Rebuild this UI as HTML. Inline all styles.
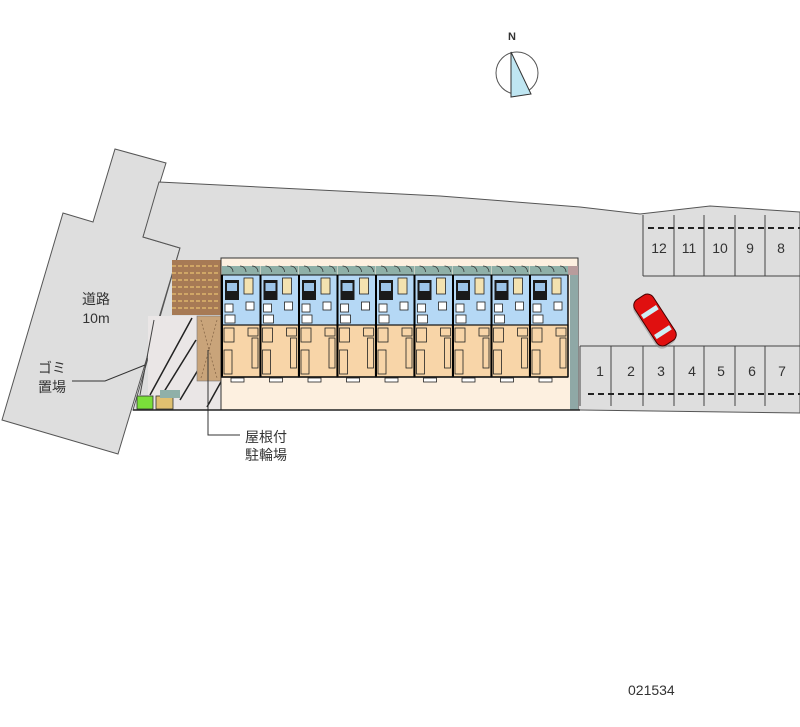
<!DOCTYPE html>
<html><head><meta charset="utf-8"><style>
html,body{margin:0;padding:0;background:#fff;width:800px;height:727px;overflow:hidden}
svg{display:block}
text{font-family:"Liberation Sans","Noto Sans CJK JP",sans-serif;fill:#333}
</style></head><body>
<svg width="800" height="727" viewBox="0 0 800 727" xmlns="http://www.w3.org/2000/svg">
<defs>
<g id="unit">
  <rect x="0" y="8" width="38" height="9" fill="#8fb0a8"/>
  <rect x="0" y="17" width="38" height="50" fill="#b5d8f5" stroke="#111" stroke-width="1"/>
  <rect x="3" y="22" width="14" height="20" fill="#1a1a1a"/>
  <rect x="5" y="25" width="10" height="8" fill="#9cc4e8"/>
  <rect x="22" y="20" width="9" height="16" fill="#f3e2b0" stroke="#222" stroke-width="0.8"/>
  <rect x="3" y="46" width="8" height="8" fill="#fff" stroke="#222" stroke-width="0.8"/>
  <rect x="3" y="57" width="10" height="8" fill="#fff" stroke="#222" stroke-width="0.8"/>
  <rect x="24" y="44" width="8" height="8" fill="#fff" stroke="#222" stroke-width="0.8"/>
  <rect x="0" y="67" width="38" height="52" fill="#f8d5a8" stroke="#111" stroke-width="1.2"/>
  <rect x="2" y="70" width="10" height="14" fill="#f8d5a8" stroke="#222" stroke-width="0.8"/>
  <rect x="26" y="70" width="10" height="8" fill="#f8d5a8" stroke="#222" stroke-width="0.8"/>
  <rect x="30" y="80" width="6" height="30" fill="#f8d5a8" stroke="#222" stroke-width="0.8"/>
  <rect x="2" y="92" width="8" height="24" fill="#f8d5a8" stroke="#222" stroke-width="0.8"/>
  <rect x="9" y="120" width="13" height="4" fill="#fff" stroke="#222" stroke-width="0.8"/>
  <path d="M5 8 a6 6 0 0 1 6 6 M18 8 a6 6 0 0 1 6 6 M30 8 a6 6 0 0 1 6 6" fill="none" stroke="#333" stroke-width="0.8"/>
  <line x1="0" y1="17" x2="0" y2="119" stroke="#000" stroke-width="2"/>
</g>
</defs>
<!-- road -->
<polygon points="115,149 166,163 143,237 180,248 118,454 2,420 63,213 93,222" fill="#dedede" stroke="#555" stroke-width="1"/>
<!-- lot -->
<polygon points="159,182 440,196 580,207 640,214 710,206 800,212 800,413 580,410 133,410 180,248 143,237" fill="#dedede" stroke="#555" stroke-width="1"/>
<rect x="148" y="316" width="74" height="94" fill="#eae6e6"/>
<g stroke="#222" stroke-width="1.5">
<line x1="150" y1="395" x2="192" y2="318"/><line x1="162" y1="395" x2="196" y2="340"/>
<line x1="180" y1="400" x2="198" y2="370"/><line x1="207" y1="407" x2="222" y2="380"/>
</g>
<line x1="154" y1="320" x2="140" y2="395" stroke="#444" stroke-width="1"/>
<!-- brick -->
<rect x="172" y="260" width="50" height="55" fill="#a77a55"/>
<g stroke="#e8c070" stroke-width="1.2" stroke-dasharray="4 2">
<line x1="172" y1="266" x2="220" y2="266"/><line x1="172" y1="273" x2="220" y2="273"/><line x1="172" y1="280" x2="220" y2="280"/><line x1="172" y1="287" x2="220" y2="287"/><line x1="172" y1="294" x2="220" y2="294"/><line x1="172" y1="301" x2="220" y2="301"/><line x1="172" y1="308" x2="220" y2="308"/>
</g>
<!-- bike area -->
<rect x="197" y="316" width="24" height="65" fill="#c9a47a" stroke="#777" stroke-width="0.6"/>
<path d="M201 320 L209 350 L217 320 M201 378 L209 350 L217 378" fill="none" stroke="#8a6a4a" stroke-width="0.8" stroke-dasharray="2 2"/>
<line x1="208" y1="350" x2="208" y2="412" stroke="#333" stroke-width="1"/>
<!-- green & box -->
<rect x="137" y="396" width="16" height="13" fill="#7adf3a" stroke="#333" stroke-width="0.8"/>
<rect x="156" y="396" width="17" height="13" fill="#e0c070" stroke="#333" stroke-width="0.8"/>
<rect x="160" y="390" width="20" height="8" fill="#8fb0a8"/>
<!-- building -->
<rect x="221" y="258" width="357" height="152" fill="#fdf0e0" stroke="#333" stroke-width="1"/>
<rect x="568" y="266" width="10" height="9" fill="#b89c9c"/>
<rect x="570" y="275" width="8" height="135" fill="#8fa8a6"/>
<use href="#unit" x="222" y="258"/><use href="#unit" x="260.5" y="258"/><use href="#unit" x="299" y="258"/>
<use href="#unit" x="337.5" y="258"/><use href="#unit" x="376" y="258"/><use href="#unit" x="414.5" y="258"/>
<use href="#unit" x="453" y="258"/><use href="#unit" x="491.5" y="258"/><use href="#unit" x="530" y="258"/>
<line x1="221" y1="377" x2="568" y2="377" stroke="#111" stroke-width="1.5"/>
<line x1="568" y1="275" x2="568" y2="377" stroke="#111" stroke-width="1.5"/>
<line x1="133" y1="410" x2="580" y2="410" stroke="#222" stroke-width="1.5"/>
<!-- parking top -->
<g fill="none" stroke="#444" stroke-width="1">
<path d="M643 276 V215 M643 276 H800 M674 215 V276 M704 215 V276 M735 215 V276 M765 215 V276"/>
<path d="M580 346 H800 M580 346 V406 M611 346 V406 M643 346 V406 M674 346 V406 M704 346 V406 M735 346 V406 M765 346 V406"/>
</g>
<g stroke="#222" stroke-width="2" stroke-dasharray="6 4">
<line x1="648" y1="228" x2="800" y2="228"/><line x1="588" y1="394" x2="800" y2="394"/>
</g>
<g font-size="14" fill="#444" text-anchor="middle">
<text x="659" y="253">12</text><text x="689" y="253">11</text><text x="720" y="253">10</text><text x="750" y="253">9</text><text x="781" y="253">8</text>
<text x="600" y="376">1</text><text x="631" y="376">2</text><text x="661" y="376">3</text><text x="692" y="376">4</text><text x="721" y="376">5</text><text x="752" y="376">6</text><text x="782" y="376">7</text>
</g>
<!-- car -->
<g transform="translate(655,320) rotate(57)">
<rect x="-27" y="-11" width="54" height="22" rx="7" fill="#888" opacity="0.5" transform="translate(2,2)"/>
<rect x="-27" y="-11" width="54" height="22" rx="7" fill="#e01010" stroke="#400" stroke-width="1"/>
<rect x="-12" y="-9" width="5" height="18" fill="#cfeef5"/>
<rect x="12" y="-9" width="5" height="18" fill="#cfeef5"/>
</g>
<!-- compass -->
<circle cx="517" cy="73" r="21" fill="#fff" stroke="#555" stroke-width="1"/>
<polygon points="511,52 531,94 511,97" fill="#bfe6f2" stroke="#333" stroke-width="1"/>
<text x="508" y="40" font-size="11" font-weight="bold" font-family="Liberation Serif">N</text>
<!-- labels -->
<text x="96" y="304" font-size="14" text-anchor="middle">道路</text>
<text x="96" y="323" font-size="14" text-anchor="middle">10m</text>
<text x="52" y="373" font-size="14" text-anchor="middle">ゴミ</text>
<text x="52" y="392" font-size="14" text-anchor="middle">置場</text>
<polyline points="72,381 105,381 145,365" fill="none" stroke="#333" stroke-width="1"/>
<polyline points="208,412 208,435 240,435" fill="none" stroke="#333" stroke-width="1"/>
<text x="245" y="442" font-size="14">屋根付</text>
<text x="245" y="460" font-size="14">駐輪場</text>
<text x="628" y="695" font-size="14" fill="#555">021534</text>
</svg>
</body></html>
